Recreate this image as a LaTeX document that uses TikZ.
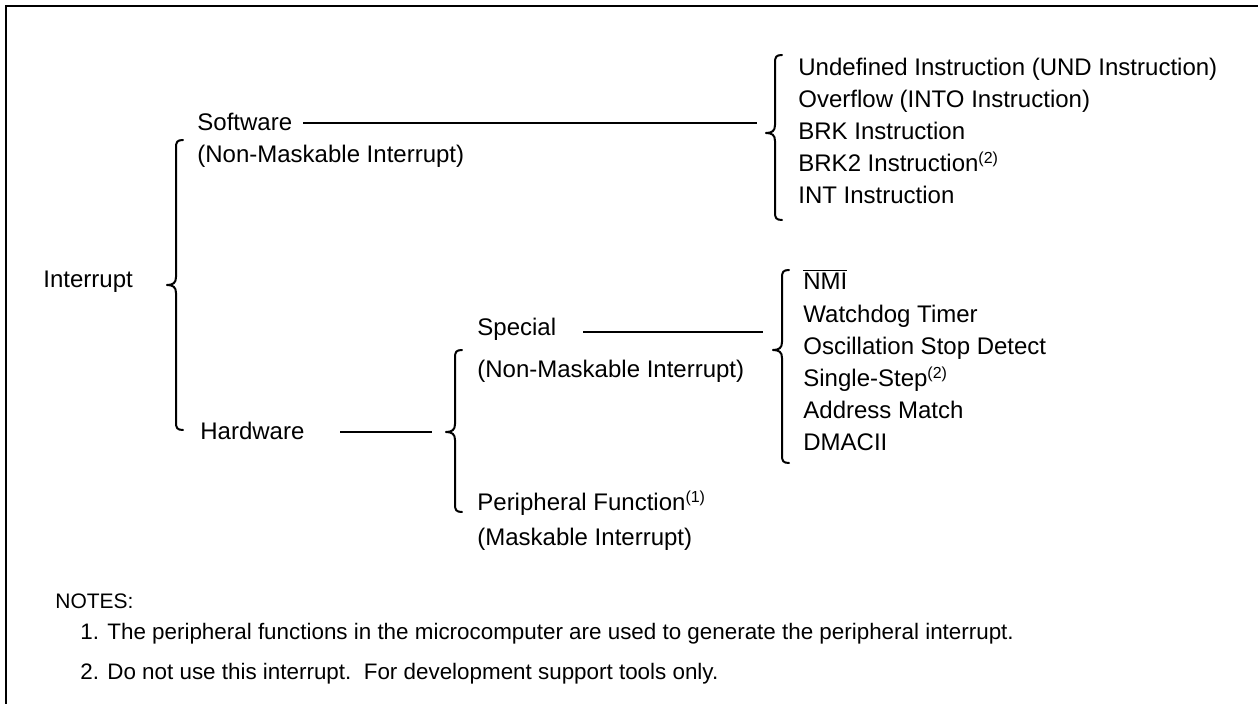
\documentclass[tikz,border=0pt]{standalone}
\usepackage{fontspec}
\setmainfont{Liberation Sans}
\tikzset{
  lbl/.style={anchor=base west, inner sep=0pt, font=\fontsize{12}{14}\selectfont},
  notehead/.style={anchor=base west, inner sep=0pt, font=\fontsize{10.5}{12}\selectfont},
  note/.style={anchor=base west, inner sep=0pt, font=\fontsize{11.2}{13}\selectfont},
  conn/.style={line width=1pt},
  brc/.style={line width=1pt, line cap=round, line join=round},
  frame/.style={line width=1pt}
}
\newcommand{\mybrace}[4]{%
  \draw[brc] ({#1+7},#2) .. controls ({#1+1},#2) and (#1,{#2+2}) .. (#1,{#2+8})
    -- (#1,{#3-8}) .. controls (#1,{#3-2}) and ({#1-3},#3) .. ({#1-9},#3)
    .. controls ({#1-3},#3) and (#1,{#3+2}) .. (#1,{#3+8})
    -- (#1,{#4-8}) .. controls (#1,{#4-2}) and ({#1+1},#4) .. ({#1+7},#4);}
\newcommand{\sups}[1]{\textsuperscript{(#1)}}
\begin{document}
\begin{tikzpicture}[x=0.5pt,y=-0.5pt]
\useasboundingbox (0,0) rectangle (1258,704);
% frame
\draw[frame] (6,704) -- (6,6) -- (1258,6);

% level 0
\node[lbl] (intr) at (43,288) {Interrupt};
\mybrace{176}{140}{285}{430}

% software branch
\node[lbl] (sw) at (197,131) {Software};
\node[lbl] (swnm) at (197,163) {(Non-Maskable Interrupt)};
\coordinate (swA) at (303,123);
\coordinate (swB) at (757,123);
\draw[conn] (swA) -- (swB);
\mybrace{775}{55}{133}{220}
\node[lbl] (i1) at (798,76) {Undefined Instruction (UND Instruction)};
\node[lbl] (i2) at (798,108) {Overflow (INTO Instruction)};
\node[lbl] (i3) at (798,140) {BRK Instruction};
\node[lbl] (i4) at (798,172) {BRK2 Instruction\sups{2}};
\node[lbl] (i5) at (798,204) {INT Instruction};

% hardware branch
\node[lbl] (hw) at (200,440) {Hardware};
\coordinate (hwA) at (340,432);
\coordinate (hwB) at (432,432);
\draw[conn] (hwA) -- (hwB);
\mybrace{455}{350}{432}{512}

\node[lbl] (sp) at (477,336) {Special};
\node[lbl] (spnm) at (477,378) {(Non-Maskable Interrupt)};
\coordinate (spA) at (583,332);
\coordinate (spB) at (763,332);
\draw[conn] (spA) -- (spB);
\mybrace{782}{270}{350}{463}
\node[lbl] (s1) at (803,290) {$\overline{\hbox{NMI}}$};
\node[lbl] (s2) at (803,323) {Watchdog Timer};
\node[lbl] (s3) at (803,355) {Oscillation Stop Detect};
\node[lbl] (s4) at (803,387) {Single-Step\sups{2}};
\node[lbl] (s5) at (803,419) {Address Match};
\node[lbl] (s6) at (803,451) {DMACII};

\node[lbl] (pf) at (477,511) {Peripheral Function\sups{1}};
\node[lbl] (pfm) at (477,546) {(Maskable Interrupt)};

% notes
\node[notehead] (notes) at (55,609) {NOTES:};
\node[note] (n1) at (80,640) {1. The peripheral functions in the microcomputer are used to generate the peripheral interrupt.};
\node[note] (n2) at (80,680) {2. Do not use this interrupt.\ \ For development support tools only.};
\end{tikzpicture}
\end{document}
